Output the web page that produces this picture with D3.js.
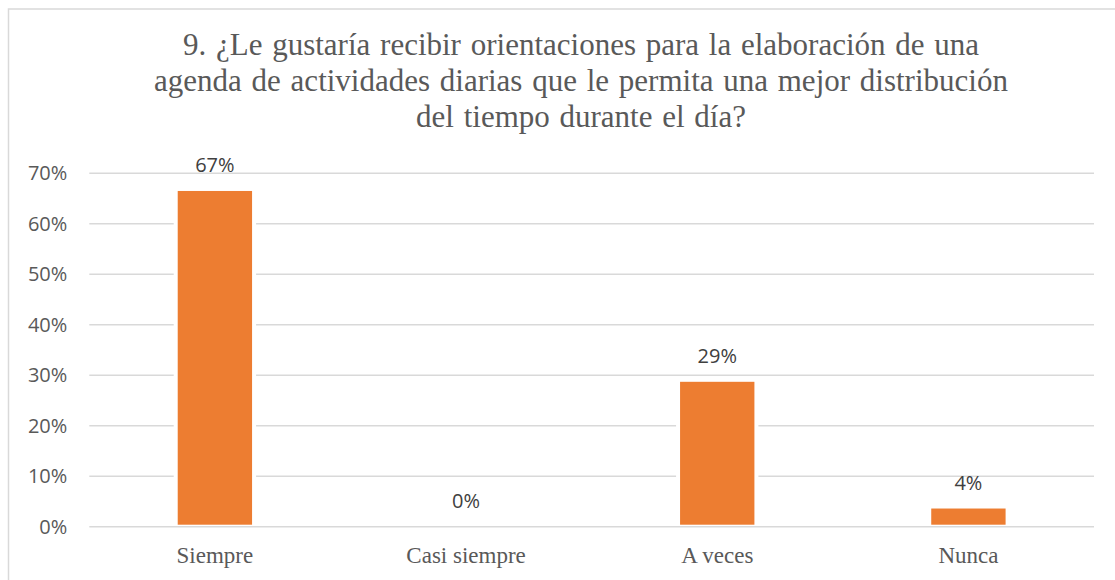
<!DOCTYPE html>
<html>
<head>
<meta charset="utf-8">
<script src="https://cdn.jsdelivr.net/npm/d3@7/dist/d3.min.js"></script>
<style>
  html, body { margin: 0; padding: 0; background: #fff; }
  svg { display: block; }
  .serif { font-family: "Liberation Serif", "Times New Roman", Tinos, "DejaVu Serif", serif; }
  .sans { font-family: "Open Sans", "Liberation Sans", sans-serif; }
</style>
</head>
<body>
<svg id="chart" width="1115" height="580"></svg>
<script>
// Survey answers and their shares
const categories = ["Siempre", "Casi siempre", "A veces", "Nunca"];
const shares = [0.665, 0, 0.287, 0.036];
const yTicks = [0, 0.1, 0.2, 0.3, 0.4, 0.5, 0.6, 0.7];
const titleLines = [
  "9. ¿Le gustaría recibir orientaciones para la elaboración de una",
  "agenda de actividades diarias que le permita una mejor distribución",
  "del tiempo durante el día?"
];

const W = 1115, H = 580;
const plot = { left: 89.3, right: 1094, top: 173.3, bottom: 526.7 };
const grey = "#595959";
const gridColor = "#d9d9d9";
const barColor = "#ED7D31";

const svg = d3.select("#chart");

// outer chart frame (left and top edges visible)
svg.append("rect")
  .attr("x", 8.5).attr("y", 9)
  .attr("width", W + 10).attr("height", H + 10)
  .attr("fill", "none")
  .attr("stroke", gridColor)
  .attr("stroke-width", 1.5);

const x = d3.scaleBand()
  .domain(categories)
  .range([plot.left, plot.right])
  .paddingInner(0.704)
  .paddingOuter(0.352);

const y = d3.scaleLinear()
  .domain([0, 0.7])
  .range([plot.bottom, plot.top]);

const pct = d3.format(".0%");

// title
const title = svg.append("text")
  .attr("class", "serif")
  .attr("text-anchor", "middle")
  .attr("font-size", 31)
  .attr("word-spacing", 2)
  .attr("fill", grey);
title.selectAll("tspan")
  .data(titleLines)
  .join("tspan")
  .attr("x", 581)
  .attr("y", (d, i) => 55 + i * 36)
  .text(d => d);

// horizontal gridlines
svg.append("g")
  .selectAll("line")
  .data(yTicks)
  .join("line")
  .attr("x1", plot.left).attr("x2", plot.right)
  .attr("y1", d => y(d)).attr("y2", d => y(d))
  .attr("stroke", gridColor)
  .attr("stroke-width", 1.5);

// y axis labels
const yAxis = svg.append("g")
  .attr("transform", `translate(${plot.left - 22},0)`)
  .call(d3.axisLeft(y).tickValues(yTicks).tickFormat(pct).tickSize(0).tickPadding(0));
yAxis.attr("font-family", null);
yAxis.select(".domain").remove();
yAxis.selectAll("text")
  .attr("class", "sans")
  .attr("font-size", 20)
  .attr("fill", grey);

// bars with a thin white halo that breaks the gridlines
const rows = categories.map((c, i) => ({ c, v: shares[i] }));
const bars = svg.append("g");
bars.selectAll("rect.halo")
  .data(rows.filter(d => d.v > 0))
  .join("rect")
  .attr("class", "halo")
  .attr("x", d => x(d.c) - 4)
  .attr("width", x.bandwidth() + 8)
  .attr("y", d => y(d.v))
  .attr("height", d => y(0) - y(d.v) - 1)
  .attr("fill", "#fff");
bars.selectAll("rect.bar")
  .data(rows)
  .join("rect")
  .attr("class", "bar")
  .attr("x", d => x(d.c))
  .attr("width", x.bandwidth())
  .attr("y", d => y(d.v))
  .attr("height", d => Math.max(0, y(0) - y(d.v) - 2))
  .attr("fill", barColor);

// value labels
svg.append("g")
  .selectAll("text")
  .data(rows)
  .join("text")
  .attr("class", "sans")
  .attr("x", d => x(d.c) + x.bandwidth() / 2)
  .attr("y", d => y(d.v) - 18.5)
  .attr("text-anchor", "middle")
  .attr("font-size", 20)
  .attr("fill", "#404040")
  .text(d => pct(d.v));

// category labels
const xAxis = svg.append("g")
  .attr("transform", `translate(0,${plot.bottom})`)
  .call(d3.axisBottom(x).tickSize(0).tickPadding(0));
xAxis.attr("font-family", null);
xAxis.select(".domain").remove();
xAxis.selectAll("text")
  .attr("class", "serif")
  .attr("dy", 0)
  .attr("y", 36)
  .attr("font-size", 23)
  .attr("fill", grey);
</script>
</body>
</html>
